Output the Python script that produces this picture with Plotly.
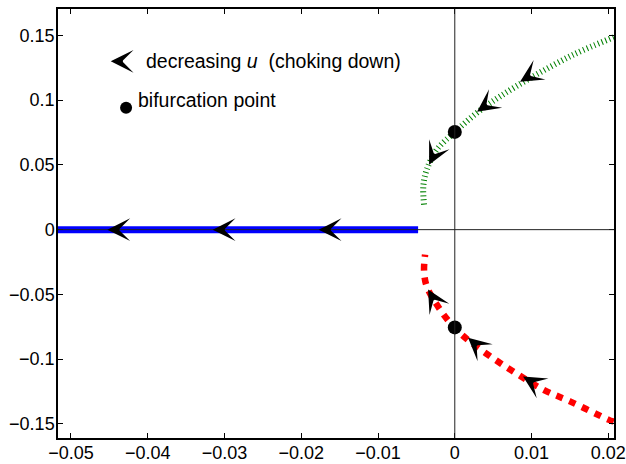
import numpy as np
import plotly.graph_objects as go

# ---------------- data ----------------
blue_x = [-0.0517, -0.00478]
blue_y = [0.0, 0.0]

# upper branch, ordered in the direction of decreasing u
green_x = [0.0207, 0.02044, 0.01544, 0.01023, 0.0059, 0.00286, 0.0, -0.00234, -0.00365, -0.0041, -0.0040]
green_y = [0.1486, 0.1480, 0.1351, 0.1184, 0.1029, 0.0901, 0.0754, 0.0618, 0.0463, 0.0334, 0.0193]

# lower branch, ordered in the direction of decreasing u
red_x = [0.0207, 0.0200, 0.0150, 0.01154, 0.00828, 0.00525, 0.00221, 0.0, -0.00191, -0.00365, -0.0040, -0.00387]
red_y = [-0.1483, -0.1467, -0.1326, -0.1236, -0.1120, -0.1004, -0.0875, -0.0759, -0.0618, -0.0438, -0.0322, -0.0193]

bif_x = [0.0, 0.0]
bif_y = [0.0755, -0.0755]

arrow_blue_x = [-0.04526, -0.03154, -0.01773]
arrow_blue_y = [0.0, 0.0, 0.0]
arrow_green_x = [0.0085, 0.0029, -0.00335]
arrow_green_y = [0.1143, 0.0911, 0.0502]
arrow_red_x = [0.00889, 0.00173, -0.00348]
arrow_red_y = [-0.1135, -0.0834, -0.0463]

x_tick_vals = [-0.05, -0.04, -0.03, -0.02, -0.01, 0.0, 0.01, 0.02]
x_tick_text = ["\u22120.05", "\u22120.04", "\u22120.03", "\u22120.02", "\u22120.01", "0", "0.01", "0.02"]
y_tick_vals = [0.15, 0.1, 0.05, 0.0, -0.05, -0.1, -0.15]
y_tick_text = ["0.15", "0.1", "0.05", "0", "\u22120.05", "\u22120.1", "\u22120.15"]

legend_arrow = (-0.04482, 0.130)
legend_arrow_text = (-0.0405, 0.1305)
legend_dot = (-0.04282, 0.0942)
legend_dot_text = (-0.0415, 0.1004)

# ---------------- layout constants ----------------
W, H = 626, 464
ML, MR, MT, MB = 58, 12, 9, 26
XR = [-0.05169, 0.02074]
YR = [-0.1609, 0.1704]
FONT = "Liberation Sans, Arial, Helvetica, sans-serif"
sx = (W - ML - MR) / (XR[1] - XR[0])
sy = (H - MT - MB) / (YR[1] - YR[0])


def arrow_offsets(cx, cy, x0, y0, L=10.0):
    """Screen-space offset of the arrow tail, using the curve tangent."""
    px = np.array(cx) * sx
    py = -np.array(cy) * sy
    p0 = np.array([x0 * sx, -y0 * sy])
    best, bd = 0, 1e18
    for i in range(len(px) - 1):
        a = np.array([px[i], py[i]])
        b = np.array([px[i + 1], py[i + 1]])
        ab = b - a
        t = np.clip(np.dot(p0 - a, ab) / max(np.dot(ab, ab), 1e-12), 0, 1)
        d = np.linalg.norm(a + t * ab - p0)
        if d < bd:
            bd, best = d, i
    d = np.array([px[best + 1] - px[best], py[best + 1] - py[best]])
    d = d / np.linalg.norm(d)
    return -d[0] * L, -d[1] * L


def arrow_ann(x0, y0, ax, ay):
    return dict(x=x0, y=y0, xref="x", yref="y", ax=ax, ay=ay, text="",
                showarrow=True, arrowhead=3, arrowsize=3.8, arrowwidth=1,
                arrowcolor="black", standoff=0, font=dict(size=1))


fig = go.Figure()

fig.add_trace(go.Scatter(x=blue_x, y=blue_y, mode="lines",
                         line=dict(color="#0000ff", width=7), hoverinfo="skip"))
fig.add_trace(go.Scatter(x=green_x, y=green_y, mode="lines",
                         line=dict(color="#008000", width=6, dash="1px,3px", shape="spline"),
                         hoverinfo="skip"))
fig.add_trace(go.Scatter(x=red_x, y=red_y, mode="lines",
                         line=dict(color="#ff0000", width=6.5, dash="7px,7px", shape="spline"),
                         hoverinfo="skip"))
fig.add_trace(go.Scatter(x=bif_x, y=bif_y, mode="markers",
                         marker=dict(color="black", size=14), hoverinfo="skip"))
fig.add_trace(go.Scatter(x=[legend_dot[0]], y=[legend_dot[1]], mode="markers",
                         marker=dict(color="black", size=12), hoverinfo="skip"))

annotations = []
for cx, cy, axs, ays in [(blue_x[::-1], blue_y, arrow_blue_x, arrow_blue_y),
                         (green_x, green_y, arrow_green_x, arrow_green_y),
                         (red_x, red_y, arrow_red_x, arrow_red_y)]:
    for x0, y0 in zip(axs, ays):
        ox, oy = arrow_offsets(cx, cy, x0, y0)
        annotations.append(arrow_ann(x0, y0, ox, oy))

annotations.append(arrow_ann(legend_arrow[0], legend_arrow[1], 10, 0))
annotations.append(dict(x=legend_arrow_text[0], y=legend_arrow_text[1], xref="x", yref="y",
                        text="decreasing <i>u</i>&nbsp;&nbsp;(choking down)", showarrow=False,
                        xanchor="left", yanchor="middle",
                        font=dict(family=FONT, size=19.5, color="black")))
annotations.append(dict(x=legend_dot_text[0], y=legend_dot_text[1], xref="x", yref="y",
                        text="bifurcation point", showarrow=False,
                        xanchor="left", yanchor="middle",
                        font=dict(family=FONT, size=19.5, color="black")))

shapes = [
    dict(type="line", xref="paper", yref="y", x0=0, x1=1, y0=0, y1=0,
         line=dict(color="#222222", width=1), layer="above"),
    dict(type="line", xref="x", yref="paper", x0=0, x1=0, y0=0, y1=1,
         line=dict(color="#222222", width=1), layer="above"),
]

axis_common = dict(showgrid=False, zeroline=False, showline=True, linecolor="black",
                   linewidth=1.5, mirror="ticks", ticks="inside", ticklen=5,
                   tickwidth=1, tickcolor="black", automargin=False,
                   tickfont=dict(family=FONT, size=18, color="black"))

fig.update_layout(
    template="none",
    width=W, height=H,
    margin=dict(l=ML, r=MR, t=MT, b=MB, autoexpand=False),
    paper_bgcolor="white", plot_bgcolor="white",
    showlegend=False,
    xaxis=dict(range=XR, tickvals=x_tick_vals, ticktext=x_tick_text,
               ticklabelstandoff=-2, **axis_common),
    yaxis=dict(range=YR, tickvals=y_tick_vals, ticktext=y_tick_text,
               ticklabelstandoff=-2, **axis_common),
    annotations=annotations,
    shapes=shapes,
)

fig.write_html("out.html", config={"displayModeBar": False},
               post_script="document.body.style.margin='0';document.body.style.overflow='hidden';")
